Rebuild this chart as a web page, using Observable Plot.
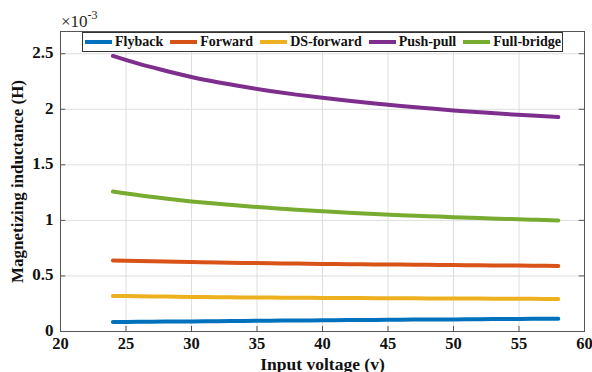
<!DOCTYPE html>
<html><head><meta charset="utf-8">
<script src="https://cdn.jsdelivr.net/npm/d3@7"></script>
<script src="https://cdn.jsdelivr.net/npm/@observablehq/plot@0.6"></script>
<style>
body{margin:0;background:#fff;}
#wrap{position:relative;width:592px;height:372px;font-family:"Liberation Serif","Times New Roman",serif;}
#exp{position:absolute;left:61px;top:10px;font-family:"Liberation Serif",serif;font-size:17px;color:#262626;line-height:1;}
#exp sup{font-size:12px;position:relative;top:-1px;}
#legend{position:absolute;left:82px;top:32px;width:481px;height:20px;border:1px solid #333;background:#fff;box-sizing:border-box;display:flex;align-items:center;padding-left:2px;font-weight:bold;font-size:14px;color:#111;white-space:nowrap;}
.it{display:flex;align-items:center;margin-right:7px;}
.sw{width:27px;height:4px;margin-right:3px;}
</style></head>
<body><div id="wrap"></div>
<script>
const voltage = [24,26,28,30,32,34,36,38,40,42,44,46,48,50,52,54,56,58];
const seriesNames = ["Flyback","Forward","DS-forward","Push-pull","Full-bridge"];
const seriesColors = ["#0072BD","#D95319","#EDB120","#7E2F8E","#77AC30"];
const flyback   = [0.085,0.087,0.089,0.091,0.093,0.095,0.097,0.099,0.101,0.103,0.104,0.106,0.108,0.109,0.111,0.112,0.114,0.115];
const forward   = [0.640,0.635,0.630,0.625,0.621,0.617,0.614,0.611,0.608,0.606,0.604,0.602,0.600,0.598,0.596,0.594,0.592,0.590];
const dsForward = [0.320,0.317,0.314,0.311,0.309,0.307,0.305,0.304,0.302,0.301,0.300,0.299,0.298,0.297,0.296,0.295,0.294,0.293];
const pushPull  = [2.480,2.408,2.347,2.290,2.243,2.202,2.165,2.132,2.103,2.076,2.051,2.029,2.009,1.990,1.973,1.957,1.943,1.930];
const fullBridge= [1.260,1.226,1.197,1.171,1.149,1.129,1.112,1.096,1.082,1.069,1.058,1.047,1.038,1.029,1.021,1.013,1.006,1.000];
const xTicks = [20,25,30,35,40,45,50,55,60];
const yTicks = [0,0.5,1,1.5,2,2.5];

const seriesValues = [flyback, forward, dsForward, pushPull, fullBridge];
const rows = [];
seriesNames.forEach((s,i)=>voltage.forEach((v,j)=>rows.push({series:s, v, L:seriesValues[i][j]})));

const chart = Plot.plot({
  width:592, height:372,
  marginLeft:60, marginRight:8, marginTop:31, marginBottom:41,
  style:{fontFamily:"'Liberation Serif','Times New Roman',serif", fontWeight:"bold", fontSize:"17px", color:"#111", background:"#fff"},
  x:{domain:[20,60], ticks:xTicks},
  y:{domain:[0,2.7], ticks:yTicks},
  color:{domain:seriesNames, range:seriesColors},
  marks:[
    Plot.gridX(xTicks,{stroke:"#dedede", strokeOpacity:1}),
    Plot.gridY(yTicks,{stroke:"#dedede", strokeOpacity:1}),
    Plot.ruleX(xTicks,{y1:0, y2:0.045, stroke:"#555"}),
    Plot.ruleX(xTicks,{y1:2.655, y2:2.7, stroke:"#555"}),
    Plot.ruleY(yTicks,{x1:20, x2:20.4, stroke:"#555"}),
    Plot.ruleY(yTicks,{x1:59.6, x2:60, stroke:"#555"}),
    Plot.axisX(xTicks,{tickSize:0, tickPadding:6, label:null, fontSize:16.5}),
    Plot.axisY(yTicks,{tickSize:0, tickPadding:7, dy:-1, tickFormat:d=>String(d), label:null, fontSize:17}),
    Plot.axisX({ticks:[], tickSize:0, label:"Input voltage (v)", labelAnchor:"center", labelArrow:"none", labelOffset:38, fontSize:17.5}),
    Plot.axisY({ticks:[], tickSize:0, label:"Magnetizing inductance (H)", labelAnchor:"center", labelArrow:"none", labelOffset:50, fontSize:17}),
    Plot.frame({stroke:"#555"}),
    Plot.line(rows,{x:"v", y:"L", z:"series", stroke:"series", strokeWidth:4, curve:"monotone-x"})
  ]
});
const wrap = document.getElementById("wrap");
wrap.appendChild(chart);
const exp = document.createElement("div");
exp.id="exp"; exp.innerHTML="×10<sup>-3</sup>";
wrap.appendChild(exp);
const lg = document.createElement("div");
lg.id="legend";
seriesNames.forEach((s,i)=>{
  const it=document.createElement("div"); it.className="it";
  it.innerHTML=`<div class="sw" style="background:${seriesColors[i]}"></div><span>${s}</span>`;
  lg.appendChild(it);
});
wrap.appendChild(lg);
</script></body></html>
